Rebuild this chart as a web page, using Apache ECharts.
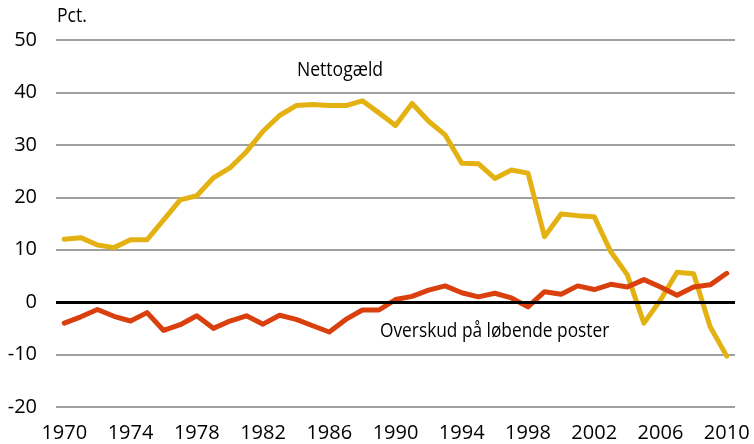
<!DOCTYPE html>
<html>
<head>
<meta charset="utf-8">
<script src="https://cdn.jsdelivr.net/npm/echarts@6/dist/echarts.min.js"></script>
<style>html,body{margin:0;padding:0;background:#fff}#c{width:754px;height:444px}</style>
</head>
<body>
<div id="c"></div>
<script>
const years = [];
for (let y = 1970; y <= 2010; y++) years.push(String(y));
const nettogaeld = [12.0,12.3,10.9,10.4,11.9,11.9,15.7,19.5,20.3,23.7,25.6,28.7,32.6,35.6,37.5,37.7,37.5,37.5,38.4,36.1,33.7,37.9,34.5,31.9,26.5,26.4,23.6,25.2,24.6,12.5,16.8,16.5,16.3,9.6,5.2,-4.0,0.4,5.7,5.4,-4.7,-10.3];
const overskud = [-4.0,-2.8,-1.4,-2.7,-3.6,-2.0,-5.4,-4.3,-2.6,-5.0,-3.6,-2.6,-4.2,-2.5,-3.3,-4.5,-5.7,-3.3,-1.5,-1.5,0.5,1.1,2.3,3.1,1.8,1.0,1.7,0.8,-0.9,2.0,1.5,3.1,2.4,3.4,2.9,4.3,2.9,1.3,2.9,3.3,5.5];
const yTicks = {min: -20, max: 50, interval: 10};
const unitLabel = 'Pct.';
const name1 = 'Nettogæld';
const name2 = 'Overskud på løbende poster';

const FONT = '"Open Sans", sans-serif';
const chart = echarts.init(document.getElementById('c'), null, {renderer: 'canvas'});
chart.setOption({
  animation: false,
  backgroundColor: '#fff',
  grid: {left: 56, right: 19, top: 40, bottom: 37},
  xAxis: {
    type: 'category',
    data: years,
    boundaryGap: true,
    axisLine: {show: false},
    axisTick: {show: false},
    axisLabel: {interval: 3, color: '#000', fontSize: 20, fontFamily: FONT, margin: 16},
    splitLine: {show: false}
  },
  yAxis: {
    type: 'value',
    min: yTicks.min, max: yTicks.max, interval: yTicks.interval,
    axisLine: {show: false},
    axisTick: {show: false},
    axisLabel: {color: '#000', fontSize: 20, fontFamily: FONT, margin: 19},
    splitLine: {lineStyle: {color: '#a0a0a0', width: 2}}
  },
  series: [
    {
      type: 'line', data: nettogaeld, symbol: 'none',
      lineStyle: {color: '#e3b212', width: 5, join: 'round', cap: 'round'},
      markLine: {
        silent: true, symbol: 'none', label: {show: false},
        lineStyle: {color: '#000', width: 3, type: 'solid'},
        data: [{yAxis: 0}]
      },
      z: 3
    },
    {
      type: 'line', data: overskud, symbol: 'none',
      lineStyle: {color: '#d9400e', width: 5, join: 'round', cap: 'round'},
      z: 4
    }
  ],
  graphic: [
    {type: 'text', x: 57, y: 16, scaleX: 0.88, style: {text: unitLabel, font: '20px ' + FONT, fill: '#000', textAlign: 'left', textVerticalAlign: 'middle'}},
    {type: 'text', x: 340, y: 70, scaleX: 0.88, style: {text: name1, font: '20px ' + FONT, fill: '#000', textAlign: 'center', textVerticalAlign: 'middle'}},
    {type: 'text', x: 380, y: 331, scaleX: 0.865, style: {text: name2, font: '20px ' + FONT, fill: '#000', textAlign: 'left', textVerticalAlign: 'middle'}}
  ]
});
</script>
</body>
</html>
